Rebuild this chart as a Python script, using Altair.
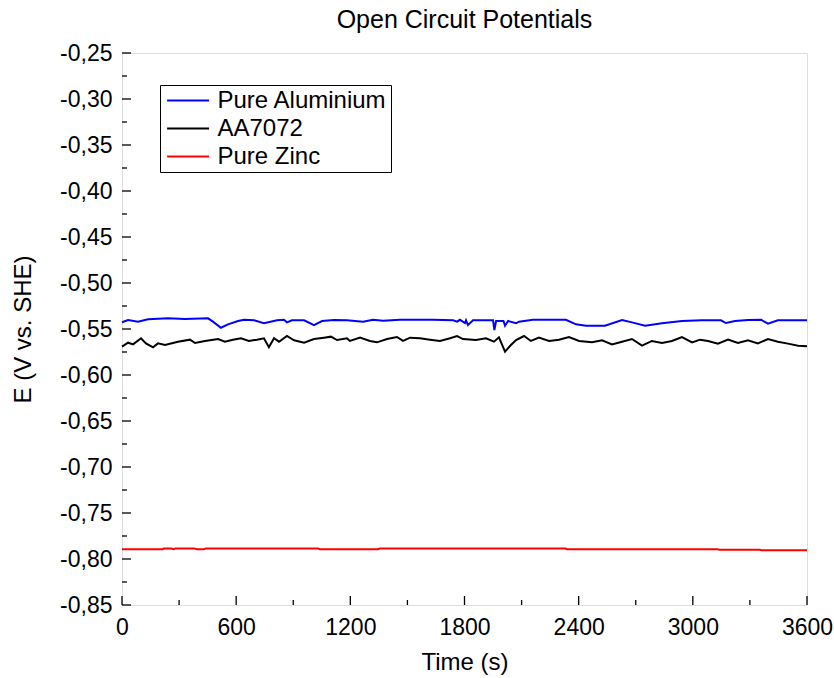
import altair as alt
import pandas as pd

# ---------------- data ----------------
al_t = [0, 32, 84, 137, 242, 331, 452, 478, 520, 557, 610, 641, 694, 746, 815, 851, 867, 893,
        957, 1009, 1051, 1114, 1182, 1267, 1319, 1372, 1461, 1634, 1740, 1761, 1776, 1803, 1808,
        1818, 1845, 1950, 1957, 1966, 2005, 2013, 2029, 2071, 2086, 2160, 2333, 2386, 2439, 2538,
        2628, 2680, 2749, 2838, 2943, 3048, 3148, 3174, 3222, 3290, 3358, 3395, 3447, 3600]
al_e = [-0.5427, -0.5402, -0.5420, -0.5395, -0.5384, -0.5391, -0.5384, -0.5420, -0.5486, -0.5449,
        -0.5413, -0.5400, -0.5405, -0.5438, -0.5405, -0.5400, -0.5428, -0.5406, -0.5406, -0.5457,
        -0.5413, -0.5402, -0.5406, -0.5420, -0.5400, -0.5410, -0.5400, -0.5400, -0.5406, -0.5420,
        -0.5400, -0.5435, -0.5406, -0.5457, -0.5406, -0.5406, -0.5511, -0.5413, -0.5413, -0.5464,
        -0.5413, -0.5438, -0.5420, -0.5400, -0.5400, -0.5449, -0.5464, -0.5464, -0.5402, -0.5428,
        -0.5464, -0.5438, -0.5413, -0.5406, -0.5406, -0.5435, -0.5413, -0.5402, -0.5399, -0.5442,
        -0.5406, -0.5406]

aa_t = [0, 32, 58, 100, 126, 163, 189, 226, 294, 357, 384, 436, 505, 541, 583, 625, 667, 709,
        746, 772, 799, 825, 867, 904, 957, 1009, 1062, 1098, 1130, 1182, 1198, 1251, 1303, 1340,
        1393, 1445, 1477, 1514, 1566, 1619, 1671, 1724, 1761, 1792, 1860, 1913, 1955, 1981, 2013,
        2044, 2071, 2113, 2149, 2191, 2244, 2297, 2349, 2402, 2470, 2523, 2575, 2628, 2680, 2733,
        2785, 2838, 2890, 2943, 2996, 3038, 3080, 3132, 3185, 3237, 3290, 3342, 3395, 3447, 3500,
        3553, 3600]
aa_e = [-0.5692, -0.5649, -0.5667, -0.5601, -0.5656, -0.5699, -0.5656, -0.5674, -0.5638, -0.5616,
        -0.5652, -0.5630, -0.5609, -0.5638, -0.5616, -0.5601, -0.5630, -0.5616, -0.5601, -0.5699,
        -0.5601, -0.5638, -0.5576, -0.5623, -0.5649, -0.5609, -0.5594, -0.5583, -0.5620, -0.5601,
        -0.5630, -0.5594, -0.5630, -0.5645, -0.5609, -0.5587, -0.5630, -0.5594, -0.5601, -0.5616,
        -0.5630, -0.5601, -0.5576, -0.5609, -0.5620, -0.5601, -0.5638, -0.5591, -0.5746, -0.5674,
        -0.5620, -0.5576, -0.5630, -0.5594, -0.5630, -0.5616, -0.5587, -0.5630, -0.5645, -0.5623,
        -0.5667, -0.5638, -0.5609, -0.5681, -0.5630, -0.5652, -0.5630, -0.5587, -0.5645, -0.5616,
        -0.5630, -0.5659, -0.5616, -0.5652, -0.5623, -0.5656, -0.5609, -0.5638, -0.5659, -0.5681,
        -0.5688]

zn_t = [0, 215, 220, 260, 270, 280, 380, 395, 430, 440, 1030, 1040, 1345, 1355, 2330, 2340,
        3127, 3140, 3350, 3360, 3600]
zn_e = [-0.7893, -0.7893, -0.7886, -0.7886, -0.7893, -0.7886, -0.7886, -0.7893, -0.7893, -0.7886,
        -0.7886, -0.7893, -0.7893, -0.7886, -0.7886, -0.7893, -0.7893, -0.7900, -0.7900, -0.7904,
        -0.7904]

series_names = ["Pure Aluminium", "AA7072", "Pure Zinc"]
series_colors = ["#0000FF", "#000000", "#FF0000"]

x_major = [0, 600, 1200, 1800, 2400, 3000, 3600]
x_minor = [300, 900, 1500, 2100, 2700, 3300]
y_major = [-0.85, -0.80, -0.75, -0.70, -0.65, -0.60, -0.55, -0.50, -0.45, -0.40, -0.35, -0.30, -0.25]
y_minor = [-0.825, -0.775, -0.725, -0.675, -0.625, -0.575, -0.525, -0.475, -0.425, -0.375, -0.325, -0.275]

FONT = "Liberation Sans"
W, H = 685, 552

df = pd.concat([
    pd.DataFrame({"t": al_t, "E": al_e, "series": series_names[0]}),
    pd.DataFrame({"t": aa_t, "E": aa_e, "series": series_names[1]}),
    pd.DataFrame({"t": zn_t, "E": zn_e, "series": series_names[2]}),
], ignore_index=True)

xscale = alt.Scale(domain=[0, 3600], nice=False)
yscale = alt.Scale(domain=[-0.85, -0.25], nice=False, zero=False)

ylabel_expr = "replace(replace(format(datum.value, '.2f'), '.', ','), '\u2212', '-')"

lines = alt.Chart(df).mark_line(strokeWidth=2).encode(
    x=alt.X("t:Q", scale=xscale,
            axis=alt.Axis(values=x_major, title="Time (s)", ticks=False, tickSize=0, domain=False,
                          grid=False, labelFontSize=23, labelFont=FONT, labelPadding=11,
                          labelFlush=False, labelColor="black", format="d",
                          titleFontSize=24, titleFont=FONT, titleFontWeight="normal",
                          titleColor="black", titlePadding=11)),
    y=alt.Y("E:Q", scale=yscale,
            axis=alt.Axis(values=y_major, title="E (V vs. SHE)", ticks=False, tickSize=0,
                          domain=False, grid=False, labelFontSize=23, labelFont=FONT,
                          labelPadding=10, labelFlush=False, labelColor="black",
                          labelExpr=ylabel_expr,
                          titleFontSize=24, titleFont=FONT, titleFontWeight="normal",
                          titleColor="black", titlePadding=24)),
    color=alt.Color("series:N", scale=alt.Scale(domain=series_names, range=series_colors),
                    legend=alt.Legend(title=None, orient="none", legendX=38, legendY=32,
                                      symbolType="M-0.8,0L3.2,0", symbolSize=441,
                                      symbolStrokeWidth=2,
                                      labelFontSize=24, labelFont=FONT, labelColor="black",
                                      labelLimit=0, labelOffset=30, rowPadding=4, padding=3.5,
                                      strokeColor="black", fillColor="white", cornerRadius=0)),
    detail="series:N",
)

xmaj = alt.Chart(pd.DataFrame({"t": x_major})).mark_rule(color="black", strokeWidth=1.3).encode(
    x=alt.X("t:Q", scale=xscale), y=alt.value(H), y2=alt.value(H - 9))
xmin = alt.Chart(pd.DataFrame({"t": x_minor})).mark_rule(color="black", strokeWidth=1.3).encode(
    x=alt.X("t:Q", scale=xscale), y=alt.value(H), y2=alt.value(H - 5))
ymaj = alt.Chart(pd.DataFrame({"E": y_major})).mark_rule(color="black", strokeWidth=1.3).encode(
    y=alt.Y("E:Q", scale=yscale), x=alt.value(0), x2=alt.value(9))
ymin = alt.Chart(pd.DataFrame({"E": y_minor})).mark_rule(color="black", strokeWidth=1.3).encode(
    y=alt.Y("E:Q", scale=yscale), x=alt.value(0), x2=alt.value(5))

chart = alt.layer(lines, xmaj, xmin, ymaj, ymin).properties(
    width=W, height=H,
    autosize=alt.AutoSizeParams(type="none"),
    padding={"left": 122, "top": 53, "right": 27, "bottom": 73},
    title=alt.TitleParams("Open Circuit Potentials", fontSize=25, font=FONT,
                          fontWeight="normal", color="black", offset=9, anchor="middle"),
).configure_view(stroke="black", strokeWidth=1.5).configure(background="white")

chart.save("out.html", embed_options={"renderer": "svg", "actions": False})
